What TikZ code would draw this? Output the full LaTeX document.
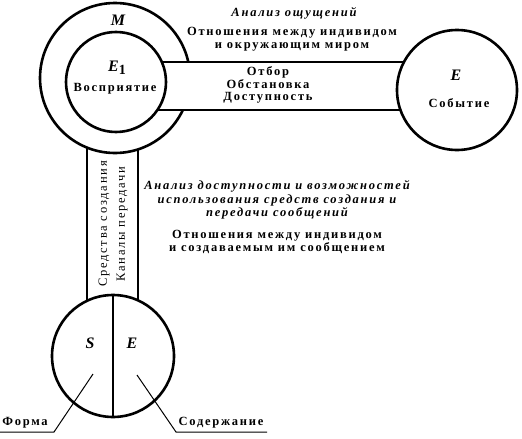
\documentclass[tikz,border=0pt]{standalone}
\usepackage{fontspec}
\setmainfont{Liberation Serif}
\newfontfamily\spaced[LetterSpace=14]{Liberation Serif}
\begin{document}
\begin{tikzpicture}[x=1pt,y=-1pt]
\tikzset{
 ring/.style={circle, draw, line width=2.6pt, fill=white, inner sep=0pt},
 band/.style={line width=2.6pt, fill=white},
 lbl/.style={font=\spaced\fontsize{12.5}{12.5}\selectfont\bfseries, align=center, inner sep=0pt},
 reg/.style={font=\spaced\fontsize{12.5}{12.5}\selectfont, inner sep=0pt},
 ital/.style={font=\spaced\fontsize{12.5}{13.5}\selectfont\bfseries\itshape, align=center, inner sep=0pt},
 sym/.style={font=\fontsize{16}{16}\selectfont\bfseries\itshape, inner sep=0pt},
 lead/.style={line width=1pt}
}
\useasboundingbox (0,0) rectangle (522,439);
% vertical band
\draw[band] (87,130) rectangle (138,320);
% outer ring M
\node[ring, minimum size=150pt] (M) at (115,78) {};
% horizontal band
\draw[band] (140,62) rectangle (430,110);
% circles
\node[ring, minimum size=100pt] (E1) at (116,82) {};
\node[ring, minimum size=120pt] (E) at (457,90) {};
\node[ring, minimum size=122pt] (SE) at (113,356) {};
\draw[line width=2.6pt] (SE.north) -- (SE.south);
% texts
\node[sym] (tM) at (118,20) {M};
\node[sym] (tE1) at (117,68) {E\raisebox{-3.5pt}{\fontsize{14}{14}\selectfont\upshape\bfseries 1}};
\node[lbl] (tV) at (115,89) {Восприятие};
\node[sym] (tE) at (456,75) {E};
\node[lbl] (tS) at (459,103) {Событие};
\node[sym] (tSS) at (90,343) {S};
\node[sym] (tSE) at (132,343) {E};
\node[ital] (a1) at (294,13) {Анализ ощущений};
\node[lbl] (r1) at (292,39) {Отношения между индивидом\\и окружающим миром};
\node[lbl] (b1) at (268,85) {Отбор\\Обстановка\\Доступность};
\node[reg, rotate=90] (v1) at (104,224) {Средства создания};
\node[reg, rotate=90] (v2) at (122,224) {Каналы передачи};
\node[ital] (a2) at (277,200) {Анализ доступности и возможностей\\использования средств создания и\\передачи сообщений};
\node[lbl] (r2) at (277,242) {Отношения между индивидом\\и создаваемым им сообщением};
% leaders
\node[lbl] (fo) at (25,423) {Форма};
\node[lbl] (so) at (221,423) {Содержание};
\coordinate (pf) at (93,374);
\coordinate (kf) at (54,432);
\coordinate (ef) at (0,432);
\coordinate (ps) at (137,375);
\coordinate (ks) at (176,432);
\coordinate (es) at (267,432);
\draw[lead] (pf) -- (kf) -- (ef);
\draw[lead] (ps) -- (ks) -- (es);
\end{tikzpicture}
\end{document}
